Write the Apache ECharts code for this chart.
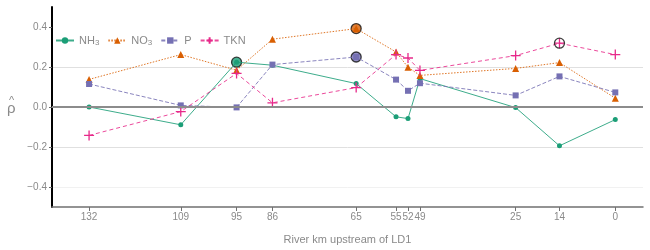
<!DOCTYPE html>
<html>
<head>
<meta charset="utf-8">
<script src="https://cdn.jsdelivr.net/npm/echarts@6/dist/echarts.min.js"></script>
<style>html,body{margin:0;padding:0;background:#fff}#c{width:650px;height:250px}</style>
</head>
<body>
<div id="c"></div>
<script>
// River km upstream of LD1
const riverKm = [132, 109, 95, 86, 65, 55, 52, 49, 25, 14, 0];
const seriesNames = ['NH3', 'NO3', 'P', 'TKN'];
const nh3 = [0.000, -0.089, 0.224, 0.209, 0.117, -0.049, -0.058, 0.142, -0.003, -0.194, -0.063];
const no3 = [0.138, 0.262, 0.184, 0.339, 0.392, 0.275, 0.199, 0.158, 0.193, 0.222, 0.044];
const p   = [0.115, 0.008, -0.002, 0.212, 0.250, 0.137, 0.081, 0.119, 0.058, 0.153, 0.073];
const tkn = [-0.142, -0.023, 0.168, 0.021, 0.097, 0.262, 0.245, 0.183, 0.257, 0.319, 0.262];
// highlighted (circled) points: km per series
const highlightKm = { NH3: [95], NO3: [65], P: [65], TKN: [14] };
const yTicks = [-0.4, -0.2, 0.0, 0.2, 0.4];

const valuesBy = { NH3: nh3, NO3: no3, P: p, TKN: tkn };
const colors = { NH3: '#1b9e77', NO3: '#d95f02', P: '#7570b3', TKN: '#e7298a' };
const symbols = { NH3: 'circle', NO3: 'triangle', P: 'rect', TKN: 'path://M5,0L5,10M0,5L10,5' };
const sizes = { NH3: 5, NO3: 7, P: 6, TKN: 10 };
const dashes = { NH3: 'solid', NO3: [1.5, 1.5], P: [4, 2], TKN: [4, 3] };

const txt = '#8a8a8a';
const series = [];
seriesNames.forEach(n => {
  const vals = valuesBy[n];
  const isPlus = n === 'TKN';
  series.push({
    name: n, type: 'line',
    data: riverKm.map((k, i) => [k, vals[i]]),
    symbol: symbols[n], symbolSize: sizes[n],
    showAllSymbol: true,
    lineStyle: { color: colors[n], width: 1, type: dashes[n], opacity: 0.85 },
    itemStyle: isPlus ? { color: 'rgba(0,0,0,0)', borderColor: colors[n], borderWidth: 1.3 }
                      : { color: colors[n], borderWidth: 0 },
    emphasis: { disabled: true },
    z: 3
  });
});
seriesNames.forEach(n => {
  const vals = valuesBy[n];
  series.push({
    name: n + '_hl', type: 'scatter',
    data: highlightKm[n].map(k => [k, vals[riverKm.indexOf(k)]]),
    symbol: 'circle', symbolSize: 10,
    itemStyle: { color: n === 'TKN' ? 'rgba(0,0,0,0)' : colors[n], borderColor: '#111', borderWidth: 1.3 },
    emphasis: { disabled: true },
    z: n === 'TKN' ? 5 : 2
  });
});
// zero reference line
series.push({
  name: 'zero', type: 'line', data: [], silent: true,
  markLine: { silent: true, symbol: 'none', label: { show: false },
    lineStyle: { color: '#8c8c8c', width: 2, type: 'solid' },
    data: [{ yAxis: 0 }] },
  z: 1
});

const chart = echarts.init(document.getElementById('c'), null, { renderer: 'canvas' });
chart.setOption({
  animation: false,
  backgroundColor: '#fff',
  textStyle: { fontFamily: 'Liberation Sans, Arial, sans-serif' },
  grid: { left: 52, right: 7, top: 7, bottom: 42 },
  graphic: [
    { type: 'text', left: 9, top: 95, style: { text: '^', fontSize: 11, fill: txt, fontFamily: 'Liberation Sans, Arial, sans-serif' } },
    { type: 'text', left: 7, top: 101, style: { text: '\u03c1', fontSize: 15, fill: txt, fontFamily: 'Liberation Sans, Arial, sans-serif' } }
  ],
  legend: {
    data: seriesNames, left: 50, top: 30, itemWidth: 18, itemHeight: 8, itemGap: 8,
    textStyle: { color: txt, fontSize: 11,
      rich: { sub: { fontSize: 8, color: txt, padding: [5, 0, 0, 0] } } },
    formatter: name => name === 'NH3' ? 'NH{sub|3}' : name === 'NO3' ? 'NO{sub|3}' : name
  },
  xAxis: {
    type: 'value', inverse: true, min: -6.95, max: 141.3,
    splitLine: { show: false },
    axisLine: { onZero: false, lineStyle: { color: '#707070', width: 1.5 } },
    axisTick: { show: true, customValues: riverKm, length: 4, lineStyle: { color: '#707070' } },
    axisLabel: { customValues: riverKm, fontSize: 10, color: txt, margin: 5, hideOverlap: false },
    name: 'River km upstream of LD1', nameLocation: 'middle', nameGap: 27,
    nameTextStyle: { color: txt, fontSize: 11 }
  },
  yAxis: {
    type: 'value', min: -0.5, max: 0.5, interval: 0.1,
    axisLine: { show: true, onZero: false, lineStyle: { color: '#000', width: 2 } },
    axisTick: { show: true, customValues: yTicks, length: 3, lineStyle: { color: '#666' } },
    axisLabel: { customValues: yTicks, fontSize: 10, color: txt, margin: 5,
      formatter: v => (Math.abs(v) < 1e-9 ? '0.0' : v.toFixed(1).replace('-', '\u2212')) },
    splitLine: { show: true, showMaxLine: false, lineStyle: { color: ['#f1f1f1', '#e0e0e0'], width: 1 } }
  },
  series: series
});
</script>
</body>
</html>
